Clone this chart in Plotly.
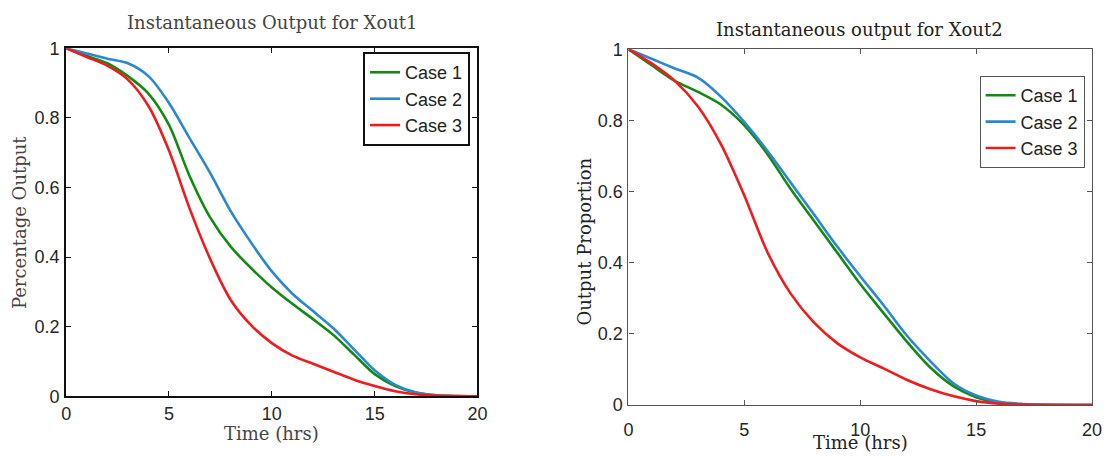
import plotly.graph_objects as go

# ---------------- data ----------------
time_hrs = [0, 1, 2, 3, 4, 5, 6, 7, 8, 9, 10, 11, 12, 13, 14, 15, 16, 17, 18, 20]

x1_case1 = [1.0, 0.978, 0.957, 0.92, 0.87, 0.78, 0.633, 0.514, 0.43, 0.368, 0.313, 0.266, 0.222, 0.176, 0.12, 0.064, 0.03, 0.011, 0.003, 0.0]
x1_case2 = [1.0, 0.985, 0.97, 0.957, 0.92, 0.843, 0.742, 0.642, 0.532, 0.441, 0.359, 0.295, 0.245, 0.195, 0.135, 0.075, 0.033, 0.011, 0.003, 0.0]
x1_case3 = [1.0, 0.975, 0.95, 0.91, 0.834, 0.706, 0.54, 0.395, 0.277, 0.204, 0.153, 0.117, 0.094, 0.071, 0.048, 0.03, 0.015, 0.006, 0.002, 0.0]

x2_case1 = [1.0, 0.955, 0.911, 0.88, 0.844, 0.786, 0.705, 0.607, 0.518, 0.429, 0.34, 0.259, 0.179, 0.107, 0.054, 0.022, 0.007, 0.002, 0.0, 0.0]
x2_case2 = [1.0, 0.973, 0.946, 0.92, 0.866, 0.795, 0.714, 0.625, 0.536, 0.446, 0.362, 0.281, 0.196, 0.125, 0.062, 0.027, 0.009, 0.003, 0.001, 0.0]
x2_case3 = [1.0, 0.96, 0.911, 0.839, 0.732, 0.589, 0.429, 0.313, 0.232, 0.174, 0.134, 0.103, 0.071, 0.045, 0.025, 0.011, 0.004, 0.001, 0.0, 0.0]

case_names = ["Case 1", "Case 2", "Case 3"]
case_colors = ["#138a13", "#2b87d1", "#ee1c1c"]

x_ticks = [0, 5, 10, 15, 20]
y_ticks = [0, 0.2, 0.4, 0.6, 0.8, 1]
y_tick_text = ["0", "0.2", "0.4", "0.6", "0.8", "1"]

titles = ["Instantaneous Output for Xout1", "Instantaneous output for Xout2"]
x_label = "Time (hrs)"
y_labels = ["Percentage Output", "Output Proportion"]

# ---------------- figure ----------------
W, H = 1105, 459
fig = go.Figure()

left_series = [x1_case1, x1_case2, x1_case3]
right_series = [x2_case1, x2_case2, x2_case3]

for name, col, ys in zip(case_names, case_colors, left_series):
    fig.add_trace(go.Scatter(x=time_hrs, y=ys, mode="lines", name=name,
                             line=dict(color=col, width=2.6, shape="spline", smoothing=0.8),
                             xaxis="x", yaxis="y", legend="legend"))
for name, col, ys in zip(case_names, case_colors, right_series):
    fig.add_trace(go.Scatter(x=time_hrs, y=ys, mode="lines", name=name,
                             line=dict(color=col, width=2.6, shape="spline", smoothing=0.8),
                             xaxis="x2", yaxis="y2", legend="legend2"))

def px_x(p):
    return p / W

def px_y(p):
    return 1 - p / H

tick_font = dict(family="Liberation Sans, Arial, sans-serif", size=18, color="#262626")

common_x = dict(range=[0, 20], tickvals=x_ticks, ticks="inside", ticklen=5,
                showgrid=False, zeroline=False, showline=True, mirror="ticks",
                tickfont=tick_font)
common_y = dict(range=[0, 1], tickvals=y_ticks, ticktext=y_tick_text, ticks="inside",
                ticklen=5, showgrid=False, zeroline=False, showline=True, mirror="ticks",
                tickfont=tick_font, ticklabelstandoff=1)

legend_font = dict(family="Liberation Sans, Arial, sans-serif", size=18, color="#222")

fig.update_layout(
    width=W, height=H,
    margin=dict(l=0, r=0, t=0, b=0),
    paper_bgcolor="white", plot_bgcolor="white",
    xaxis=dict(domain=[px_x(62), px_x(479)], anchor="y", linecolor="#111", linewidth=2,
               tickcolor="#111", ticklabelstandoff=0, **common_x),
    yaxis=dict(domain=[px_y(404), px_y(40)], anchor="x", linecolor="#111", linewidth=2,
               tickcolor="#111", **common_y),
    xaxis2=dict(domain=[px_x(632), px_x(1102)], anchor="y2", linecolor="#555", linewidth=1.3,
                tickcolor="#555", ticklabelstandoff=8, **common_x),
    yaxis2=dict(domain=[px_y(413), px_y(41)], anchor="x2", linecolor="#555", linewidth=1.3,
                tickcolor="#555", **common_y),
    legend=dict(x=px_x(363), y=px_y(44), xanchor="left", yanchor="top",
                bgcolor="white", bordercolor="#111", borderwidth=2,
                font=legend_font, itemwidth=30, tracegroupgap=0),
    legend2=dict(x=px_x(988), y=px_y(69), xanchor="left", yanchor="top",
                 bgcolor="white", bordercolor="#555", borderwidth=1,
                 font=legend_font, itemwidth=30, tracegroupgap=0),
    showlegend=True,
)

serif = "DejaVu Serif, Liberation Serif, serif"
annotations = [
    dict(text=titles[0], x=px_x(271), y=px_y(13), font=dict(family=serif, size=18, color="#444")),
    dict(text=titles[1], x=px_x(866), y=px_y(20), font=dict(family=serif, size=18, color="#222")),
    dict(text=x_label, x=px_x(270), y=px_y(443), font=dict(family=serif, size=18, color="#444")),
    dict(text=x_label, x=px_x(867), y=px_y(452), font=dict(family=serif, size=18, color="#222")),
    dict(text=y_labels[0], x=px_x(15), y=px_y(222), textangle=-90,
         font=dict(family=serif, size=18, color="#444")),
    dict(text=y_labels[1], x=px_x(587), y=px_y(242), textangle=-90,
         font=dict(family=serif, size=18, color="#222")),
]
for a in annotations:
    a.update(xref="paper", yref="paper", showarrow=False, xanchor="center", yanchor="middle")
fig.update_layout(annotations=annotations)

fig.write_html("out.html")
